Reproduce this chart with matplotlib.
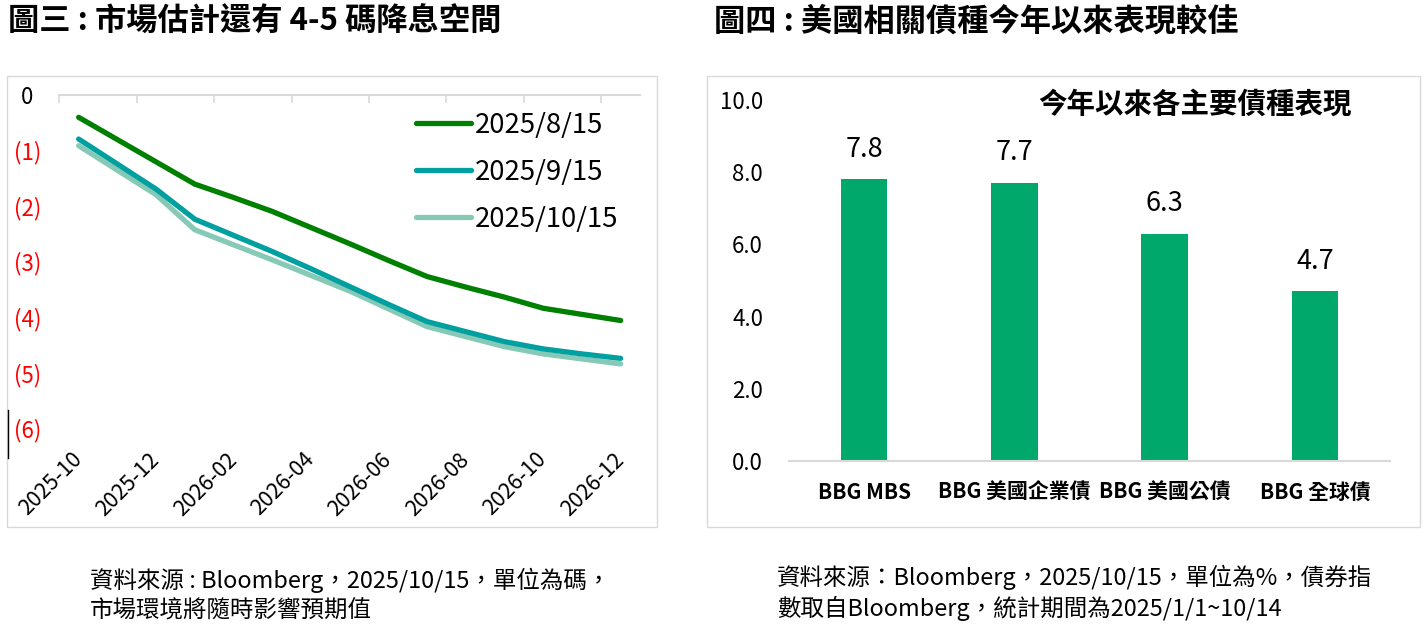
import matplotlib
matplotlib.use("Agg")
import matplotlib.pyplot as plt
from matplotlib.patches import Rectangle
from matplotlib.lines import Line2D

plt.rcParams['font.family'] = ['Noto Sans CJK TC', 'DejaVu Sans']

# ---------------- data ----------------
months = ["2025-10", "2025-11", "2025-12", "2026-01", "2026-02", "2026-03", "2026-04",
          "2026-05", "2026-06", "2026-07", "2026-08", "2026-09", "2026-10", "2026-11", "2026-12"]
series_names = ["2025/8/15", "2025/9/15", "2025/10/15"]
cuts_aug = [-0.41, -0.81, -1.21, -1.61, -1.85, -2.10, -2.39, -2.68, -2.98, -3.27, -3.46, -3.64, -3.84, -3.95, -4.06]
cuts_sep = [-0.80, -1.25, -1.70, -2.24, -2.53, -2.82, -3.13, -3.45, -3.77, -4.08, -4.26, -4.44, -4.57, -4.66, -4.74]
cuts_oct = [-0.92, -1.36, -1.80, -2.43, -2.70, -2.97, -3.25, -3.53, -3.85, -4.17, -4.35, -4.53, -4.66, -4.75, -4.84]
left_yticks = [0, -1, -2, -3, -4, -5, -6]
left_yticklabels = ["0", "(1)", "(2)", "(3)", "(4)", "(5)", "(6)"]

bond_names = ["BBG MBS", "BBG 美國企業債", "BBG 美國公債", "BBG 全球債"]
bond_returns = [7.8, 7.7, 6.3, 4.7]
right_yticks = [0, 2, 4, 6, 8, 10]

title_left = "圖三 : 市場估計還有 4-5 碼降息空間"
title_right = "圖四 : 美國相關債種今年以來表現較佳"
inner_title = "今年以來各主要債種表現"
note_left = ["資料來源 : Bloomberg，2025/10/15，單位為碼，", "市場環境將隨時影響預期值"]
note_right = ["資料來源：Bloomberg，2025/10/15，單位為%，債券指", "數取自Bloomberg，統計期間為2025/1/1~10/14"]

# ---------------- layout helpers ----------------
W, H = 1426, 625
def fx(x): return x / W
def fy(y): return 1 - y / H
def ax_rect(x0, y0, x1, y1):
    return [fx(x0), fy(y1), (x1 - x0) / W, (y1 - y0) / H]

fig = plt.figure(figsize=(W / 100, H / 100), dpi=100)

# panel boxes
for (x0, y0, x1, y1) in [(7, 76, 657, 527), (707, 76, 1420, 527)]:
    fig.patches.append(Rectangle((fx(x0), fy(y1)), (x1 - x0) / W, (y1 - y0) / H,
                                 transform=fig.transFigure, fill=False,
                                 edgecolor="#D9D9D9", lw=1.0))
fig.lines.append(Line2D([fx(7.6), fx(7.6)], [fy(410), fy(458)], transform=fig.transFigure,
                        color="black", lw=1.0))

# titles
fig.text(fx(8), fy(21.5), title_left, fontsize=22.5, weight="bold", va="center", ha="left")
fig.text(fx(714), fy(21.5), title_right, fontsize=22.5, weight="bold", va="center", ha="left")

# footnotes
fs_note = 16.9
fig.text(fx(90), fy(580), note_left[0], fontsize=fs_note, va="center", ha="left")
fig.text(fx(90), fy(611), note_left[1], fontsize=fs_note, va="center", ha="left")
fig.text(fx(777), fy(577), note_right[0], fontsize=fs_note, va="center", ha="left")
fig.text(fx(777), fy(608), note_right[1], fontsize=fs_note, va="center", ha="left")

# ---------------- left chart ----------------
ax1 = fig.add_axes(ax_rect(59.3, 94.5, 640, 428.5))
xs = list(range(len(months)))
colors = ["#008000", "#00A0A0", "#86C9B7"]
handles = []
for vals, name, c in zip([cuts_aug, cuts_sep, cuts_oct], series_names, colors):
    h, = ax1.plot(xs, vals, color=c, lw=3.8, solid_capstyle="round", label=name)
    handles.append(h)
handles[0].set_zorder(4); handles[1].set_zorder(3); handles[2].set_zorder(2)

ax1.set_xlim(-0.5, len(months) - 0.5)
ax1.set_ylim(-6, 0)
for s in ["left", "right", "bottom"]:
    ax1.spines[s].set_visible(False)
ax1.spines["top"].set_color("#D9D9D9")
ax1.spines["top"].set_linewidth(1.5)

label_idx = xs[::2]
ax1.set_xticks(label_idx)
ax1.set_xticklabels([months[i] for i in label_idx], rotation=45, ha="right",
                    rotation_mode="anchor", va="center", fontsize=15.5)
ax1.tick_params(axis="x", which="major", length=0, pad=20)
ax1.set_xticks([i - 0.5 for i in range(0, len(months) + 1, 2)], minor=True)
ax1.tick_params(axis="x", which="minor", top=True, bottom=False, direction="in",
                length=6, width=1.2, color="#D9D9D9")

ax1.set_yticks(left_yticks)
ax1.set_yticklabels(left_yticklabels, fontsize=16, ha="center")
ax1.tick_params(axis="y", length=0, pad=23)
for lab, t in zip(ax1.get_yticklabels(), left_yticks):
    lab.set_color("black" if t == 0 else "#FF0000")

leg = ax1.legend(handles=handles, loc="upper left",
                 bbox_to_anchor=(fx(416), fy(112)), bbox_transform=fig.transFigure,
                 frameon=False, fontsize=19.8, handlelength=2.0, handletextpad=0.15,
                 labelspacing=0.72, borderpad=0, borderaxespad=0)

# ---------------- right chart ----------------
ax2 = fig.add_axes(ax_rect(789, 100, 1390, 461))
bx = list(range(len(bond_names)))
bars = ax2.bar(bx, bond_returns, width=0.31, color="#00A86B")
ax2.set_xlim(-0.5, len(bond_names) - 0.5)
ax2.set_ylim(0, 10)
for s in ["left", "right", "top"]:
    ax2.spines[s].set_visible(False)
ax2.spines["bottom"].set_color("#D9D9D9")
ax2.spines["bottom"].set_linewidth(1.5)
ax2.set_xticks(bx)
ax2.set_xticklabels(bond_names, fontsize=15, fontweight="bold")
ax2.tick_params(axis="x", length=0, pad=15)
ax2.set_yticks(right_yticks)
ax2.set_yticklabels([f"{v:.1f}" for v in right_yticks], fontsize=16)
ax2.tick_params(axis="y", length=0, pad=18.7)
for b, v in zip(bars, bond_returns):
    ax2.annotate(f"{v:.1f}", (b.get_x() + b.get_width() / 2, v), xytext=(0, 12),
                 textcoords="offset points", ha="center", va="bottom", fontsize=19.5)

fig.text(fx(1195), fy(105), inner_title, fontsize=20.5, weight="bold", ha="center", va="center")

fig.savefig("out.png", dpi=100)
